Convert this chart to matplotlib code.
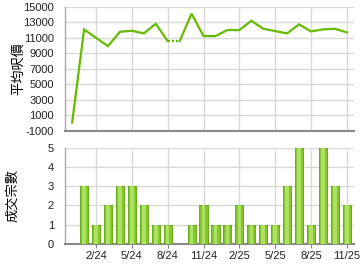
import matplotlib
matplotlib.use("Agg")
import matplotlib.pyplot as plt
import numpy as np

plt.rcParams['font.family'] = ['Liberation Sans', 'Noto Sans CJK TC', 'DejaVu Sans']

# month index: 0 = 1/24
price_months = [-1, 0, 1, 2, 3, 4, 5, 6, 7, 8, 9, 10, 11, 12, 13, 14, 15, 16, 17, 18, 19, 20, 21, 22]
price_values = [50, 12100, 11000, 9930, 11790, 11920, 11580, 12830, 10580, 10580, 14130, 11230,
                11230, 12010, 12010, 13220, 12180, 11880, 11580, 12750, 11840, 12100, 12180, 11710]
dotted_from, dotted_to = 7, 8  # carried-forward (no transaction) segment

count_months = [0, 1, 2, 3, 4, 5, 6, 7, 9, 10, 11, 12, 13, 14, 15, 16, 17, 18, 19, 20, 21, 22]
count_values = [3, 1, 2, 3, 3, 2, 1, 1, 1, 2, 1, 1, 2, 1, 1, 1, 3, 5, 1, 5, 3, 2]

tick_months = [1, 4, 7, 10, 13, 16, 19, 22]
tick_labels = ['2/24', '5/24', '8/24', '11/24', '2/25', '5/25', '8/25', '11/25']
price_ticks = list(range(-1000, 15001, 2000))
count_ticks = [0, 1, 2, 3, 4, 5]

green = '#66bb00'
grid_c = '#d9d9d9'

fig = plt.figure(figsize=(3.6, 2.7), dpi=100)
ax1 = fig.add_axes([65/360, 1 - 130.5/270, 289/360, 123.5/270])
ax2 = fig.add_axes([65/360, 1 - 244/270, 289/360, 96.5/270])

xlim = (-1.6, 22.6)

# top chart
pm = np.array(price_months)
pv = np.array(price_values, dtype=float)
i0 = price_months.index(dotted_from)
i1 = price_months.index(dotted_to)
ax1.plot(pm[:i0+1], pv[:i0+1], color=green, lw=1.6, solid_joinstyle='miter', zorder=3)
ax1.plot(pm[i0:i1+1], pv[i0:i1+1], color=green, lw=1.6, ls=(0, (0.9, 0.9)), zorder=3)
ax1.plot(pm[i1:], pv[i1:], color=green, lw=1.6, solid_joinstyle='miter', zorder=3)
ax1.set_xlim(*xlim)
ax1.set_ylim(-1000, 15000)
ax1.set_yticks(price_ticks)
ax1.set_yticklabels([str(t) for t in price_ticks])
ax1.set_xticks(tick_months)
ax1.set_xticklabels([])
ax1.set_ylabel('平均呎價', fontsize=9.5, family=['Noto Sans CJK TC'])

# bottom chart
ax2.bar(count_months, count_values, width=0.68, color='#84c82a', edgecolor='#5aa300', lw=0.6, zorder=3)
ax2.bar(count_months, count_values, width=0.3, color='#ade166', lw=0, zorder=4)
ax2.set_xlim(*xlim)
ax2.set_ylim(0, 5)
ax2.set_yticks(count_ticks)
ax2.set_xticks(tick_months)
ax2.set_xticklabels(tick_labels)
ax2.set_ylabel('成交宗數', fontsize=9.5, family=['Noto Sans CJK TC'])

for ax in (ax1, ax2):
    ax.grid(True, color=grid_c, lw=1.0, zorder=0)
    ax.set_axisbelow(True)
    ax.spines['top'].set_visible(False)
    ax.spines['right'].set_visible(False)
    ax.spines['left'].set_color('#aaaaaa')
    ax.spines['left'].set_linewidth(1.0)
    ax.spines['bottom'].set_color('#888888')
    ax.spines['bottom'].set_linewidth(1.5)
    ax.tick_params(axis='y', length=0, pad=8, labelsize=8, colors='#222222')
    ax.tick_params(axis='x', length=3, width=0.8, color='#888888', pad=2, labelsize=8, colors='#222222')

ax1.tick_params(axis='x', length=0)
ax1.yaxis.set_label_coords(-0.139, 0.5)
ax2.yaxis.set_label_coords(-0.159, 0.5)

fig.savefig('out.png', dpi=100)
